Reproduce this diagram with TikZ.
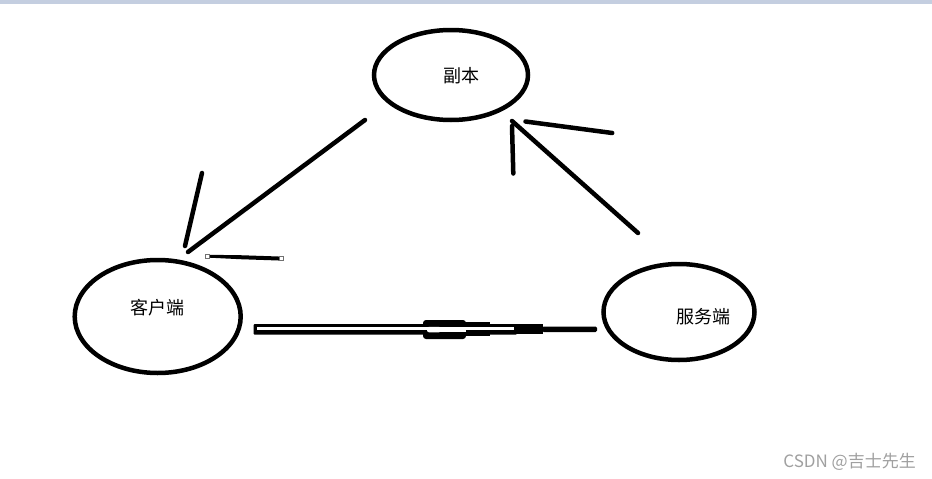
\documentclass[tikz,border=0pt]{standalone}
\usepackage{fontspec}
\newfontfamily\cjkfont{Noto Sans CJK SC}
\usetikzlibrary{shapes.geometric}
\definecolor{topbar}{HTML}{C4CEE0}
\definecolor{wmgray}{HTML}{A0A0A0}
\definecolor{handlegray}{HTML}{707070}
\tikzset{
  bubble/.style={ellipse, draw=black, line width=4.5pt, inner sep=0pt, fill=white},
  lbl/.style={font=\cjkfont\fontsize{18}{20}\selectfont, inner sep=0pt, text=black},
  stroke/.style={draw=black, line width=4.5pt, line cap=round},
  handle/.style={draw=handlegray, fill=white, line width=0.8pt, minimum size=4pt, inner sep=0pt, rectangle}
}
\begin{document}
\begin{tikzpicture}[x=1pt,y=-1pt]
\useasboundingbox (0,0) rectangle (932,479);
\fill[white] (0,0) rectangle (932,479);
\fill[topbar] (0,0) rectangle (932,3.5);

% ellipses
\node[bubble, minimum width=154pt, minimum height=90pt] (rep) at (451,75) {};
\node[bubble, minimum width=166pt, minimum height=113pt] (cli) at (157.7,316.5) {};
\node[bubble, minimum width=151pt, minimum height=96pt] (srv) at (679,312) {};

% labels
\node[lbl] (replbl) at (461,76) {副本};
\node[lbl] (clilbl) at (157,308) {客户端};
\node[lbl] (srvlbl) at (703.5,316.5) {服务端};

% left arrow (replica -> client)
\coordinate (l1) at (365,120);
\coordinate (l2) at (188,252);
\coordinate (l3) at (202,173);
\coordinate (l4) at (185,246);
\coordinate (l5) at (207.5,256.2);
\coordinate (l6) at (281.5,258.6);
\draw[stroke] (l1) -- (l2);
\draw[stroke] (l3) -- (l4);
\fill[black] (207.5,254.8) -- (240,255.2) -- (281.5,256.6) -- (281.5,260.6) -- (240,259.2) -- (207.5,257.6) -- cycle;
\node[handle] (h1) at (l5) {};
\node[handle] (h2) at (l6) {};

% right arrow (server -> replica)
\coordinate (r1) at (638,233);
\coordinate (r2) at (512,121);
\coordinate (r3) at (512,126);
\coordinate (r4) at (513.3,173.5);
\coordinate (r5) at (525.5,121.5);
\coordinate (r6) at (612.2,133);
\draw[stroke] (r1) -- (r2);
\draw[stroke] (r3) -- (r4);
\draw[stroke] (r5) -- (r6);

% bottom double connector (client <-> server)
\coordinate (b1) at (253.5,324);
\coordinate (b2) at (517,334.5);
\coordinate (b3) at (597,332);
\fill[black, rounded corners=1pt] (b1) rectangle (b2);
\fill[black, rounded corners=3pt] (423,320) rectangle (466,339);
\fill[black] (465,322.3) rectangle (490,336);
\fill[black] (516,324.3) rectangle (543,334);
\fill[black, rounded corners=1.5pt] (542,326.5) rectangle (b3);
\fill[white] (257,327.4) rectangle (514,329.9);
\fill[white, rounded corners=2pt] (427,326.8) rectangle (441,332.3);
\fill[white] (440,327.6) rectangle (466,332);

% watermark
\node[font=\cjkfont\fontsize{17}{19}\selectfont, text=wmgray, anchor=east, inner sep=0pt] (wm) at (916,462) {CSDN @吉士先生};
\end{tikzpicture}
\end{document}
